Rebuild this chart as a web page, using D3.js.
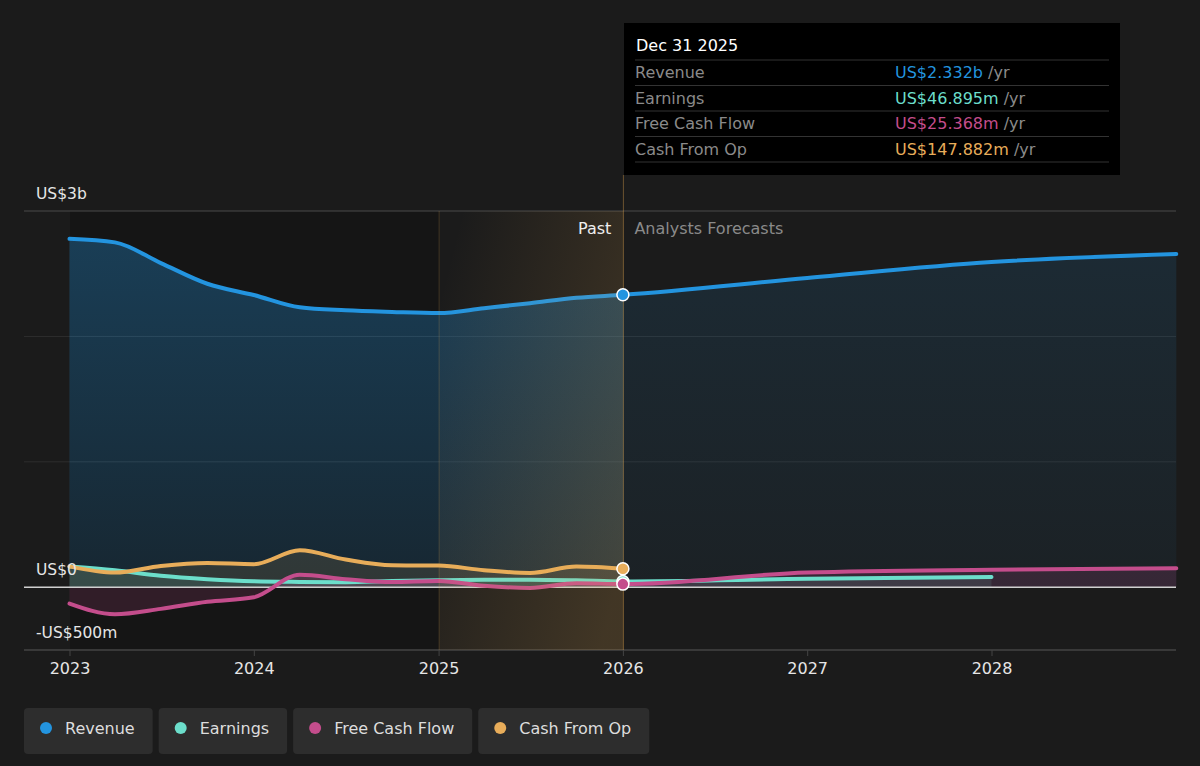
<html>
<head>
<script src="https://d3js.org/d3.v7.min.js"></script>
<style>
  body { margin: 0; background: #1b1b1b; }
  text { font-family: "DejaVu Sans", sans-serif; }
</style>
</head>
<body>
<script>
// ---- data ----
const pastDates = ["2022-12-31","2023-03-31","2023-06-30","2023-09-30","2023-12-31","2024-03-31","2024-06-30",
                   "2024-09-30","2024-12-31","2025-03-31","2025-06-30","2025-09-30","2025-12-31"];
const revenuePast  = [2778, 2750, 2585, 2420, 2330, 2232, 2208, 2195, 2186, 2225, 2265, 2308, 2332];
const earningsPast = [165, 135, 92, 65, 48, 43, 41, 50, 56, 60, 61, 56, 46.895];
const fcfPast      = [-130, -215, -172, -115, -80, 100, 65, 42, 50, 12, -5, 33, 25.368];
const cfoPast      = [167, 117, 170, 194, 184, 295, 221, 175, 173, 136, 114, 165, 147.882];

const revenueFcDates  = ["2025-12-31","2026-12-31","2027-12-31","2028-12-31"];
const revenueFc       = [2332, 2466, 2593, 2657];
const earningsFcDates = ["2025-12-31","2026-12-31","2027-12-31"];
const earningsFc      = [46.895, 68, 82];
const fcfFcDates      = ["2025-12-31","2026-12-31","2027-12-31","2028-12-31"];
const fcfFc           = [25.368, 118, 140, 152];

const yTicks = [-500, 0, 3000];
const yTickLabels = ["-US$500m", "US$0", "US$3b"];
const xYears = [2023, 2024, 2025, 2026, 2027, 2028];

const seriesNames  = ["Revenue", "Earnings", "Free Cash Flow", "Cash From Op"];
const seriesColors = ["#2394df", "#6cdecb", "#c44d8c", "#e8ad5a"];
const tipValues    = ["US$2.332b", "US$46.895m", "US$25.368m", "US$147.882m"];

const W = 1200, H = 766, FS = 16;
const parse = d3.timeParse("%Y-%m-%d");

const svg = d3.select("body").append("svg").attr("width", W).attr("height", H);

const x = d3.scaleTime().domain([new Date(2023, 0, 1), new Date(2028, 0, 1)]).range([70, 992]);
const y = d3.scaleLinear().domain([-500, 3000]).range([650, 211]);

const nowX = x(new Date(2026, 0, 1));
const splitX = x(new Date(2025, 0, 1));
const startX = x(new Date(2023, 0, 1));

const defs = svg.append("defs");

function grad(id, color, o1, o2, x1, y1, x2, y2) {
  const g = defs.append("linearGradient").attr("id", id)
    .attr("x1", x1).attr("y1", y1).attr("x2", x2).attr("y2", y2);
  g.append("stop").attr("offset", "0%").attr("stop-color", color).attr("stop-opacity", o1);
  g.append("stop").attr("offset", "100%").attr("stop-color", color).attr("stop-opacity", o2);
}
grad("revPast", "#2394df", 0.32, 0.14, 0, 0, 0, 1);
grad("revFc", "#2394df", 0.13, 0.05, 0, 0, 0, 1);
grad("hl", "#e6aa50", 0.0, 0.19, 0, 0.2, 1, 0.8);

defs.append("clipPath").attr("id", "clipPast").append("rect")
  .attr("x", 0).attr("y", 0).attr("width", nowX).attr("height", H);
defs.append("clipPath").attr("id", "clipFc").append("rect")
  .attr("x", nowX).attr("y", 0).attr("width", W - nowX).attr("height", H);

// darker past background
svg.append("rect").attr("x", startX).attr("y", 211)
  .attr("width", splitX - startX).attr("height", 439)
  .attr("fill", "#000").attr("opacity", 0.22);

// grid
svg.selectAll(".grid").data([0, 1000, 2000, 3000]).enter().append("line")
  .attr("x1", 24).attr("x2", 1176)
  .attr("y1", d => y(d)).attr("y2", d => y(d))
  .attr("stroke", d => d === 3000 ? "#4a4a4a" : "#2e2e2e").attr("stroke-width", 1);

const toX = d => x(d.date);
const pastRows = s => pastDates.map((d, i) => ({ date: parse(d), v: s[i] }));
const fcRows = (dates, s) => dates.map((d, i) => ({ date: parse(d), v: s[i] }));

const line = d3.line().x(toX).y(d => y(d.v)).curve(d3.curveMonotoneX);
const area = d3.area().x(toX).y0(y(0)).y1(d => y(d.v)).curve(d3.curveMonotoneX);

const revAll = pastRows(revenuePast).concat(fcRows(revenueFcDates, revenueFc).slice(1));
const earnAll = pastRows(earningsPast).concat(fcRows(earningsFcDates, earningsFc).slice(1));
const fcfAll = pastRows(fcfPast).concat(fcRows(fcfFcDates, fcfFc).slice(1));
const cfoAll = pastRows(cfoPast);

// areas
svg.append("path").datum(revAll).attr("d", area).attr("fill", "url(#revPast)").attr("clip-path", "url(#clipPast)");
svg.append("path").datum(revAll).attr("d", area).attr("fill", "url(#revFc)").attr("clip-path", "url(#clipFc)");
svg.append("path").datum(cfoAll).attr("d", area).attr("fill", seriesColors[3]).attr("opacity", 0.12);
svg.append("path").datum(earnAll).attr("d", area).attr("fill", seriesColors[1]).attr("opacity", 0.12);
svg.append("path").datum(fcfAll).attr("d", area).attr("fill", seriesColors[2]).attr("opacity", 0.16);

// zero line and bottom axis
svg.append("line").attr("x1", 24).attr("x2", 1176).attr("y1", y(0)).attr("y2", y(0))
  .attr("stroke", "#d0d0d0").attr("stroke-width", 1.5);
svg.append("line").attr("x1", 24).attr("x2", 1176).attr("y1", 650).attr("y2", 650)
  .attr("stroke", "#444").attr("stroke-width", 1.5);

// lines
[[earnAll, 1], [cfoAll, 3], [fcfAll, 2], [revAll, 0]].forEach(([data, i]) => {
  svg.append("path").datum(data).attr("d", line).attr("fill", "none")
    .attr("stroke", seriesColors[i]).attr("stroke-width", 4).attr("stroke-linecap", "round");
});

// past highlight
svg.append("rect").attr("x", splitX).attr("y", 211).attr("width", nowX - splitX).attr("height", 439)
  .attr("fill", "url(#hl)");
svg.append("line").attr("x1", splitX).attr("x2", splitX).attr("y1", 211).attr("y2", 650)
  .attr("stroke", "#e6aa50").attr("stroke-opacity", 0.2);
svg.append("line").attr("x1", nowX).attr("x2", nowX).attr("y1", 175).attr("y2", 650)
  .attr("stroke", "#e6aa50").attr("stroke-opacity", 0.4);

// dots at Dec 31 2025
[[earningsPast, 1], [revenuePast, 0], [cfoPast, 3], [fcfPast, 2]].forEach(([s, i]) => {
  svg.append("circle").attr("cx", x(parse(pastDates[pastDates.length - 1]))).attr("cy", y(s[s.length - 1])).attr("r", 6)
    .attr("fill", seriesColors[i]).attr("stroke", "#fff").attr("stroke-width", 1.5);
});

// y labels
svg.selectAll(".ylab").data(yTicks).enter().append("text")
  .attr("x", 36).attr("y", d => y(d) - 12)
  .attr("fill", "#e6e6e6").attr("font-size", 15.5).text((d, i) => yTickLabels[i]);

// x axis ticks
svg.selectAll(".xt").data(xYears).enter().append("line")
  .attr("x1", d => x(new Date(d, 0, 1))).attr("x2", d => x(new Date(d, 0, 1)))
  .attr("y1", 650).attr("y2", 656).attr("stroke", "#444");
svg.selectAll(".xl").data(xYears).enter().append("text")
  .attr("x", d => x(new Date(d, 0, 1))).attr("y", 674).attr("text-anchor", "middle")
  .attr("fill", "#e6e6e6").attr("font-size", FS).text(d => d);

// Past / forecast labels
svg.append("text").attr("x", nowX - 12).attr("y", 234).attr("text-anchor", "end")
  .attr("fill", "#eee").attr("font-size", FS).text("Past");
svg.append("text").attr("x", nowX + 11).attr("y", 234)
  .attr("fill", "#8a8a8a").attr("font-size", FS).text("Analysts Forecasts");

// tooltip
const tip = svg.append("g").attr("transform", "translate(624,23)");
tip.append("rect").attr("width", 496).attr("height", 152).attr("fill", "#000");
tip.append("text").attr("x", 12).attr("y", 28).attr("fill", "#fff").attr("font-size", FS).text("Dec 31 2025");
seriesNames.forEach((n, i) => {
  const ry = 37 + i * 25.5;
  tip.append("line").attr("x1", 11).attr("x2", 485).attr("y1", ry).attr("y2", ry).attr("stroke", "#333");
  tip.append("text").attr("x", 11).attr("y", ry + 18).attr("fill", "#8a8a8a").attr("font-size", FS).text(n);
  const t = tip.append("text").attr("x", 271).attr("y", ry + 18).attr("font-size", FS);
  t.append("tspan").attr("fill", seriesColors[i]).text(tipValues[i]);
  t.append("tspan").attr("fill", "#8a8a8a").text(" /yr");
});
tip.append("line").attr("x1", 11).attr("x2", 485).attr("y1", 139).attr("y2", 139).attr("stroke", "#333");

// legend
let lx = 24;
seriesNames.forEach((n, i) => {
  const g = svg.append("g").attr("transform", `translate(${lx},708)`);
  const r = g.append("rect").attr("height", 46).attr("rx", 4).attr("fill", "#2d2d2d");
  g.append("circle").attr("cx", 22).attr("cy", 20).attr("r", 6).attr("fill", seriesColors[i]);
  const t = g.append("text").attr("x", 41).attr("y", 26).attr("fill", "#ddd").attr("font-size", FS).text(n);
  const w = 41 + t.node().getComputedTextLength() + 18;
  r.attr("width", w);
  lx += w + 6;
});
</script>
</body>
</html>
